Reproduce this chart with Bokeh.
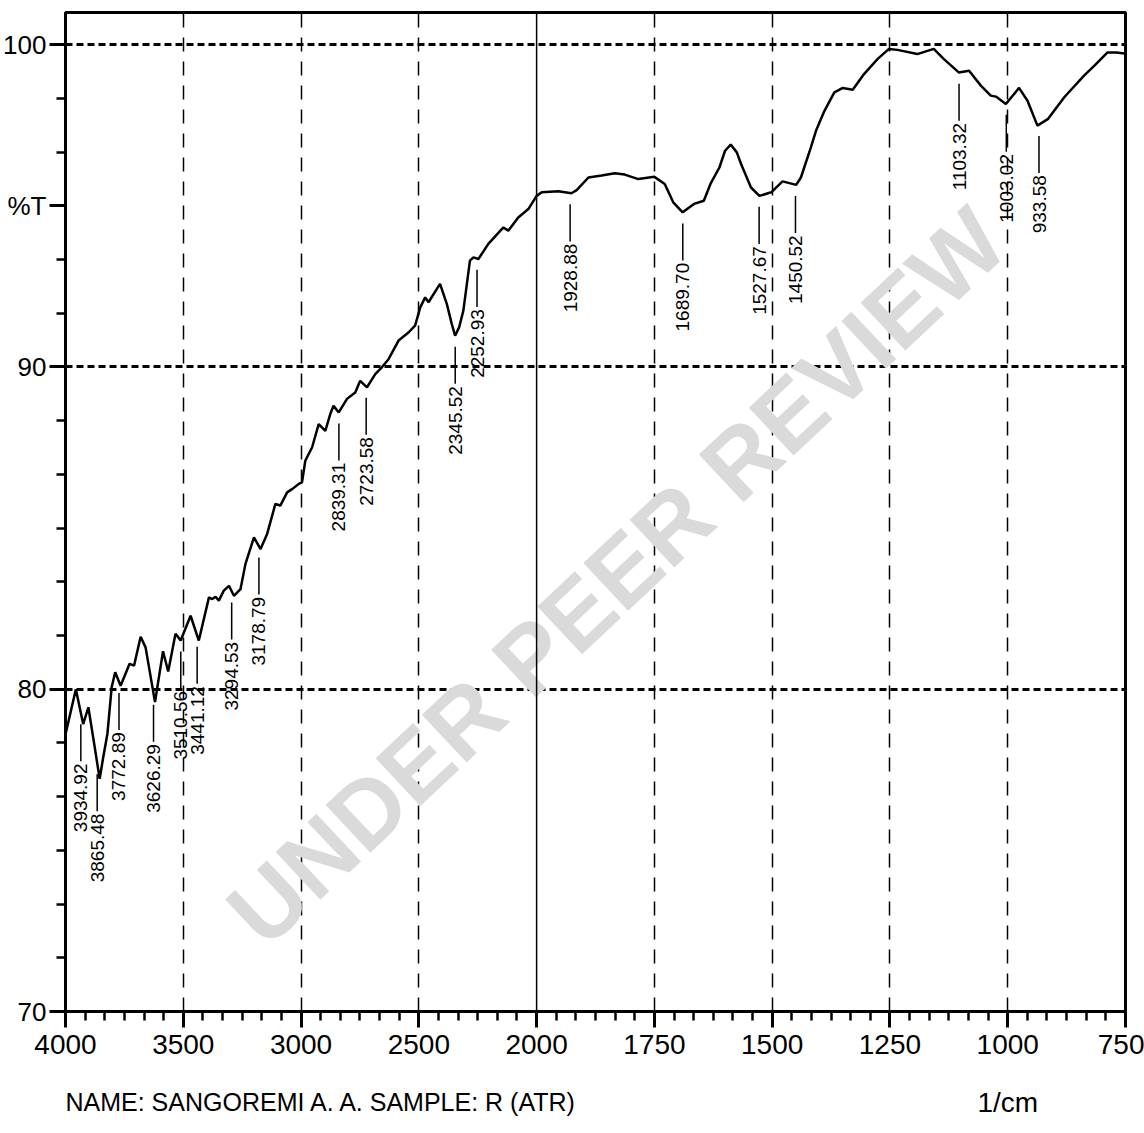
import numpy as np
from bokeh.plotting import figure
from bokeh.layouts import column
from bokeh.models import Range1d, FixedTicker, Span, Label, ColumnDataSource
from bokeh.embed import file_html
from bokeh.resources import INLINE
from bokeh.core.properties import value

# ---------------- data ----------------
wavenumber = [4000, 3956, 3925, 3903, 3877, 3855, 3840, 3822, 3804, 3789, 3766, 3728, 3709,
              3681, 3660, 3620, 3586, 3564, 3533, 3511, 3469, 3434, 3391, 3377, 3363, 3349,
              3328, 3306, 3285, 3257, 3236, 3200, 3172, 3144, 3109, 3088, 3059, 3038, 3010,
              2996, 2982, 2953, 2925, 2897, 2876, 2862, 2840, 2805, 2770, 2749, 2720, 2685,
              2657, 2628, 2586, 2544, 2516, 2494, 2473, 2459, 2410, 2381, 2360, 2346, 2329,
              2311, 2283, 2268, 2247, 2205, 2141, 2120, 2078, 2035, 2000, 1989, 1954, 1926,
              1915, 1890, 1862, 1834, 1813, 1784, 1750, 1728, 1710, 1690, 1666, 1645, 1631,
              1612, 1600, 1588, 1575, 1566, 1545, 1527, 1502, 1478, 1449, 1439, 1418, 1407,
              1389, 1368, 1350, 1329, 1305, 1276, 1252, 1234, 1192, 1157, 1136, 1104, 1082,
              1057, 1036, 1025, 1004, 976, 958, 937, 915, 880, 838, 816, 788, 770, 752]
transmittance = [78.60, 80.00, 78.92, 79.44, 78.25, 77.22, 77.88, 78.62, 80.06, 80.53, 80.11,
                 80.79, 80.73, 81.63, 81.30, 79.60, 81.18, 80.55, 81.72, 81.51, 82.28, 81.51,
                 82.85, 82.80, 82.87, 82.75, 83.06, 83.21, 82.90, 83.11, 83.89, 84.71, 84.35,
                 84.82, 85.75, 85.70, 86.11, 86.21, 86.37, 86.42, 87.09, 87.51, 88.23, 88.02,
                 88.54, 88.80, 88.59, 89.01, 89.21, 89.57, 89.37, 89.78, 89.99, 90.25, 90.82,
                 91.07, 91.28, 91.85, 92.16, 92.01, 92.58, 91.95, 91.33, 90.97, 91.23, 91.75,
                 93.30, 93.40, 93.35, 93.82, 94.33, 94.23, 94.64, 94.90, 95.31, 95.42, 95.45,
                 95.39, 95.49, 95.88, 95.94, 96.01, 95.97, 95.83, 95.90, 95.68, 95.11, 94.80,
                 95.06, 95.16, 95.68, 96.19, 96.71, 96.90, 96.66, 96.30, 95.57, 95.31, 95.42,
                 95.76, 95.65, 95.88, 96.81, 97.33, 97.95, 98.52, 98.66, 98.60, 99.09, 99.56,
                 99.87, 99.84, 99.71, 99.87, 99.56, 99.14, 99.19, 98.73, 98.42, 98.39, 98.16,
                 98.66, 98.26, 97.49, 97.69, 98.37, 99.04, 99.35, 99.76, 99.76, 99.73]
peak_positions = [3934.92, 3865.48, 3772.89, 3626.29, 3510.56, 3441.12, 3294.53, 3178.79,
                  2839.31, 2723.58, 2345.52, 2252.93, 1928.88, 1689.70, 1527.67, 1450.52,
                  1103.32, 1003.02, 933.58]
x_tick_values = [4000, 3500, 3000, 2500, 2000, 1750, 1500, 1250, 1000, 750]
x_grid_values = [3500, 3000, 2500, 1750, 1500, 1250, 1000]
y_tick_values = [70, 80, 90, 100]
y_grid_values = [80, 90, 100]
y_label_title = "%T"
y_label_position = 95
x_label_title = "1/cm"
x_label_position = 1000
sample_caption = "NAME:  SANGOREMI A. A.  SAMPLE:  R (ATR)"
watermark = "UNDER PEER REVIEW"


# Piecewise wavenumber scale of the spectrometer: 4000-2000 compressed 2x vs 2000-750
def wn_scale(w):
    w = np.asarray(w, dtype=float)
    return np.where(w >= 2000, 4000 - w, 2000 + 2 * (2000 - w))


FONT = "Liberation Sans"

xs = wn_scale(wavenumber)
ys = np.asarray(transmittance)

x_range = Range1d(0, 4500)
p = figure(width=1144, height=1070, x_range=x_range, y_range=Range1d(70, 101),
           output_backend="svg", toolbar_location=None, title=None,
           min_border_left=63, min_border_right=19, min_border_top=12, min_border_bottom=59)
p.background_fill_color = "white"
p.border_fill_color = "white"
p.outline_line_color = "black"
p.outline_line_width = 3

# watermark
p.add_layout(Label(x=2339, y=83.5, text=watermark, angle=np.deg2rad(43.2),
                   text_align="center", text_baseline="middle",
                   text_font=FONT, text_font_size="95px", text_font_style="bold",
                   text_color="#dadada", level="underlay"))

# x axis
x_major = [float(v) for v in wn_scale(x_tick_values)]
p.xaxis.ticker = FixedTicker(ticks=x_major, minor_ticks=list(np.arange(0, 4500.01, 500 / 6)))
p.xaxis.major_label_overrides = {m: str(v) for m, v in zip(x_major, x_tick_values)}

# y axis (the %T caption sits on the 95 tick like the instrument printout)
y_major = sorted(y_tick_values + [y_label_position])
p.yaxis.ticker = FixedTicker(ticks=y_major, minor_ticks=list(np.arange(70, 101.01, 10 / 6)))
y_over = {v: str(v) for v in y_tick_values}
y_over[y_label_position] = y_label_title
p.yaxis.major_label_overrides = y_over

for ax in (p.xaxis[0], p.yaxis[0]):
    ax.axis_line_width = 3
    ax.axis_line_color = "black"
    ax.major_tick_line_width = 3
    ax.minor_tick_line_width = 2.5
    ax.major_tick_line_color = "black"
    ax.minor_tick_line_color = "black"
    ax.major_tick_in = 0
    ax.minor_tick_in = 0
    ax.major_tick_out = 16
    ax.minor_tick_out = 9
    ax.major_label_text_font = FONT
    ax.major_label_text_color = "black"
p.xaxis.major_label_text_font_size = "28px"
p.yaxis.major_label_text_font_size = "26px"
p.xaxis.major_label_standoff = 7
p.yaxis.major_label_standoff = 3

# grids
p.xgrid.ticker = FixedTicker(ticks=[float(v) for v in wn_scale(x_grid_values)])
p.xgrid.grid_line_color = "black"
p.xgrid.grid_line_width = 1.5
p.xgrid.grid_line_dash = "14 10"
p.ygrid.ticker = FixedTicker(ticks=y_grid_values)
p.ygrid.grid_line_color = "black"
p.ygrid.grid_line_width = 3
p.ygrid.grid_line_dash = "7 4"
p.add_layout(Span(location=float(wn_scale(2000)), dimension="height",
                  line_color="black", line_width=1.5))

# spectrum
p.line(xs, ys, line_color="black", line_width=2.5)

# peak annotations
px = wn_scale(peak_positions)
curve_at_peak = np.interp(px, xs, ys)
gap, dash, pad = 0.35, 1.15, 0.07
src = ColumnDataSource(dict(
    x=px,
    y0=curve_at_peak - gap,
    y1=curve_at_peak - gap - dash,
    yt=curve_at_peak - gap - dash - pad,
    label=[f"{w:.2f}" for w in peak_positions],
))
p.segment(x0="x", y0="y0", x1="x", y1="y1", source=src, line_color="black", line_width=1.5)
p.text(x="x", y="yt", text="label", source=src, angle=np.pi / 2,
       text_align="right", text_baseline="middle",
       text_font=value(FONT), text_font_size="19px", text_color="black")

# caption strip below the chart (same horizontal scale as the chart)
cap = figure(width=1144, height=63, x_range=x_range, y_range=Range1d(0, 1),
             output_backend="svg", toolbar_location=None, title=None,
             x_axis_location=None, y_axis_location=None,
             min_border_left=63, min_border_right=19, min_border_top=0, min_border_bottom=0)
cap.outline_line_color = None
cap.background_fill_color = "white"
cap.border_fill_color = "white"
cap.xgrid.visible = False
cap.ygrid.visible = False
cap.text(x=[0.0], y=[0.5], text=[sample_caption], text_align="left", text_baseline="middle",
         text_font=value(FONT), text_font_size="25px", text_color="black")
cap.text(x=[float(wn_scale(x_label_position))], y=[0.5], text=[x_label_title],
         text_align="center", text_baseline="middle",
         text_font=value(FONT), text_font_size="28px", text_color="black")

layout = column(p, cap, spacing=0)
open("out.html", "w").write(file_html(layout, INLINE))
